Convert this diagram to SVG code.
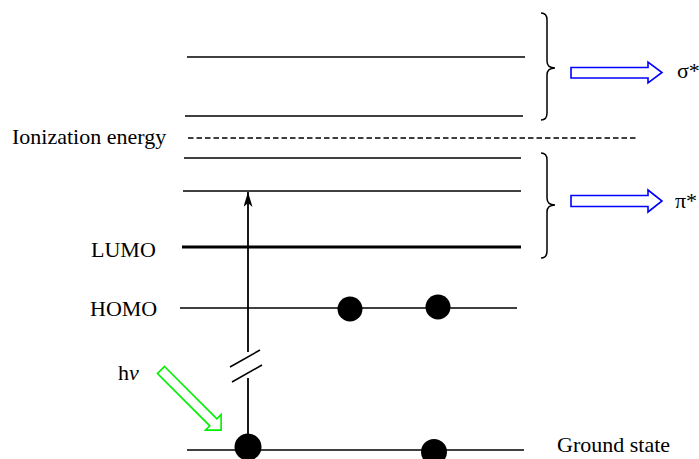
<svg xmlns="http://www.w3.org/2000/svg" width="699" height="459" viewBox="0 0 699 459">
<style>
.lvl{stroke:#000;stroke-width:1.6;fill:none}
.thick{stroke:#000;stroke-width:3.2;fill:none}
.lbl{font-family:"Liberation Serif","Times New Roman",serif;font-size:22px;fill:#000}
.brace{stroke:#000;stroke-width:1.5;fill:none}
.blue{fill:#fff;stroke:#0000ff;stroke-width:1.6}
.green{fill:#fff;stroke:#00ee00;stroke-width:1.6}
.dot{fill:#000}
</style>
<defs>
<marker id="ah" viewBox="0 0 15 9" refX="15" refY="4.5" markerWidth="15" markerHeight="9" markerUnits="userSpaceOnUse" orient="auto">
<path d="M0,0 L15,4.5 L0,9 L4,4.5 Z" fill="#000"/>
</marker>
</defs>
<rect width="699" height="459" fill="#fff"/>
<g id="levels">
<line class="lvl" x1="187" y1="57" x2="525" y2="57"/>
<line class="lvl" x1="185" y1="116" x2="523" y2="116"/>
<line class="lvl" x1="188" y1="138" x2="638" y2="138" stroke-width="1.8" stroke-dasharray="5.5,3"/>
<line class="lvl" x1="184" y1="158" x2="521" y2="158"/>
<line class="lvl" x1="183" y1="191" x2="521" y2="191"/>
<line class="thick" x1="182" y1="247" x2="521" y2="247"/>
<line class="lvl" x1="180" y1="308" x2="517" y2="308"/>
<line class="lvl" x1="187" y1="450" x2="524" y2="450"/>
</g>
<g id="labels">
<text class="lbl" x="12" y="144">Ionization energy</text>
<text class="lbl" x="91" y="257">LUMO</text>
<text class="lbl" x="90" y="316">HOMO</text>
<text class="lbl" x="118" y="380">h<tspan font-style="italic">ν</tspan></text>
<text class="lbl" x="557" y="452" font-size="23">Ground state</text>
<text class="lbl" x="677" y="78">σ*</text>
<text class="lbl" x="675" y="208">π*</text>
</g>
<g id="connectors">
<line x1="248" y1="352" x2="248" y2="192" stroke="#000" stroke-width="1.8" marker-end="url(#ah)"/>
<line x1="248" y1="378" x2="248" y2="447" stroke="#000" stroke-width="1.8"/>
<line x1="230" y1="367" x2="260" y2="350" stroke="#000" stroke-width="1.5"/>
<line x1="232" y1="382" x2="262" y2="365" stroke="#000" stroke-width="1.5"/>
</g>
<g id="electrons">
<circle class="dot" cx="350" cy="309" r="12.5"/>
<circle class="dot" cx="438" cy="307" r="12.5"/>
<circle class="dot" cx="248" cy="447" r="13.5"/>
<circle class="dot" cx="434" cy="452" r="13"/>
</g>
<g id="brace-sigma">
<path class="brace" d="M541,13 Q547,13 547,20 L547,61 Q547,68 555,68 Q547,68 547,75 L547,113 Q547,120 541,120"/>
</g>
<g id="brace-pi">
<path class="brace" d="M541,153 Q547,153 547,160 L547,198 Q547,205 555,205 Q547,205 547,212 L547,251 Q547,258 541,258"/>
</g>
<g id="arrow-sigma">
<path class="blue" d="M571,67.5 L648,67.5 L648,62 L662,72.5 L648,83 L648,78 L571,78 Z"/>
</g>
<g id="arrow-pi">
<path class="blue" d="M571,195.5 L648,195.5 L648,190 L662,201 L648,212 L648,206.5 L571,206.5 Z"/>
</g>
<g id="arrow-hv">
<path class="green" transform="translate(161,370) rotate(45)" d="M0,-5 L74,-5 L74,-11 L85,0 L74,11 L74,5 L0,5 Z"/>
</g>
</svg>
